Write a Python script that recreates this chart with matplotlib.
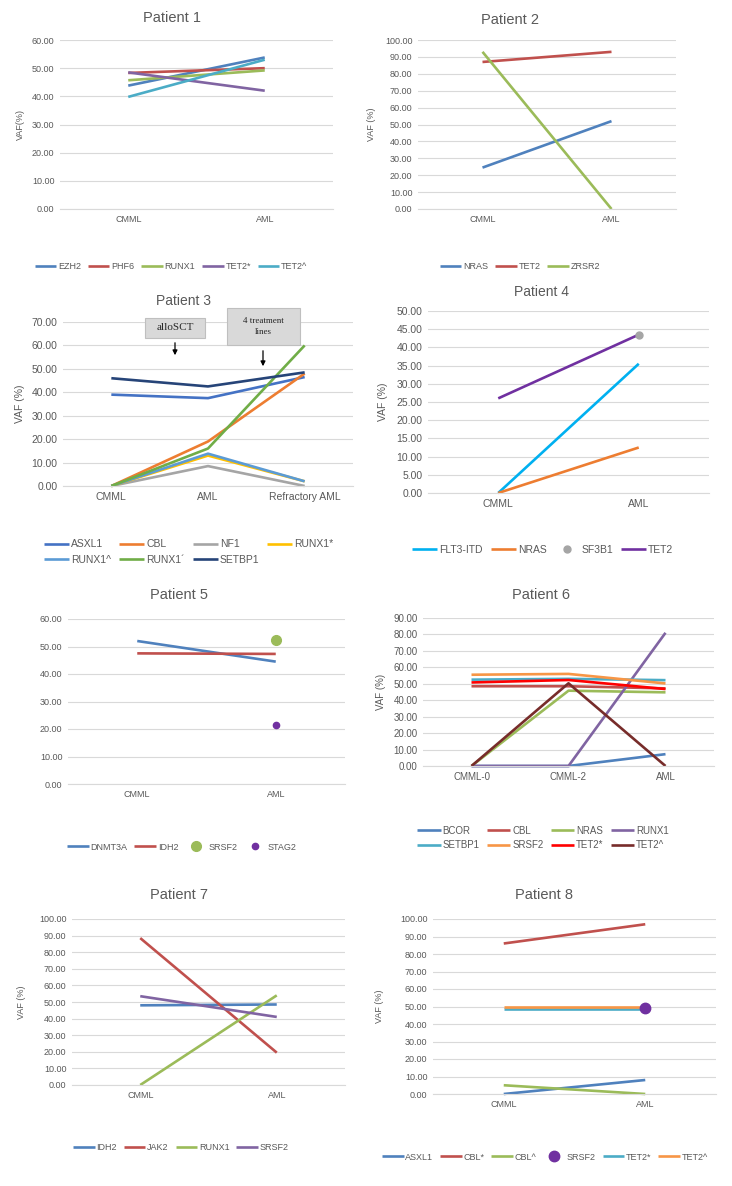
import matplotlib
matplotlib.use("Agg")
import matplotlib.pyplot as plt
from matplotlib.patches import Rectangle, FancyArrowPatch
import numpy as np

W, H = 732, 1186
TXT = "#595959"
GRID = "#D9D9D9"

plt.rcParams['font.family'] = ['Liberation Sans', 'DejaVu Sans']

# ---- data ----
p1_stages = ["CMML", "AML"]
p1_genes = ["EZH2", "PHF6", "RUNX1", "TET2*", "TET2^"]
p1_vals = [[43.8, 53.8], [48.3, 50.0], [45.7, 49.2], [48.5, 42.0], [39.8, 53.0]]
p1_cols = ["#4F81BD", "#C0504D", "#9BBB59", "#8064A2", "#4BACC6"]

p2_stages = ["CMML", "AML"]
p2_genes = ["NRAS", "TET2", "ZRSR2"]
p2_vals = [[24.5, 52.0], [87.0, 93.0], [93.0, 0.0]]
p2_cols = ["#4F81BD", "#C0504D", "#9BBB59"]

p3_stages = ["CMML", "AML", "Refractory AML"]
p3_genes = ["ASXL1", "CBL", "NF1", "RUNX1*", "RUNX1^", "RUNX1´", "SETBP1"]
p3_vals = [[39.0, 37.5, 46.5], [0.0, 19.0, 48.0], [0.0, 8.5, 0.0],
           [0.0, 13.0, 2.0], [0.0, 13.8, 2.0], [0.0, 16.0, 60.0],
           [46.0, 42.5, 48.5]]
p3_cols = ["#4472C4", "#ED7D31", "#A5A5A5", "#FFC000", "#5B9BD5", "#70AD47", "#264478"]

p4_stages = ["CMML", "AML"]
p4_genes = ["FLT3-ITD", "NRAS", "SF3B1", "TET2"]
p4_vals = [[0.0, 35.5], [0.0, 12.5], [None, 43.5], [26.0, 43.5]]
p4_cols = ["#00B0F0", "#ED7D31", "#A5A5A5", "#7030A0"]
p4_dots = {"SF3B1": 5}

p5_stages = ["CMML", "AML"]
p5_genes = ["DNMT3A", "IDH2", "SRSF2", "STAG2"]
p5_vals = [[52.0, 44.5], [47.5, 47.3], [None, 52.5], [None, 21.3]]
p5_cols = ["#4F81BD", "#C0504D", "#9BBB59", "#7030A0"]
p5_dots = {"SRSF2": 7, "STAG2": 4.5}

p6_stages = ["CMML-0", "CMML-2", "AML"]
p6_genes = ["BCOR", "CBL", "NRAS", "RUNX1", "SETBP1", "SRSF2", "TET2*", "TET2^"]
p6_vals = [[0.0, 0.0, 7.2], [48.5, 48.5, 47.2], [0.0, 45.8, 44.8], [0.0, 0.0, 81.0],
           [52.5, 53.0, 52.2], [55.5, 56.0, 50.2], [50.8, 52.3, 46.8], [0.0, 50.3, 0.0]]
p6_cols = ["#4F81BD", "#C0504D", "#9BBB59", "#8064A2", "#4BACC6", "#F79646", "#FF0000", "#772C2A"]

p7_stages = ["CMML", "AML"]
p7_genes = ["IDH2", "JAK2", "RUNX1", "SRSF2"]
p7_vals = [[48.0, 48.5], [88.5, 19.5], [0.0, 54.0], [53.5, 41.0]]
p7_cols = ["#4F81BD", "#C0504D", "#9BBB59", "#8064A2"]

p8_stages = ["CMML", "AML"]
p8_genes = ["ASXL1", "CBL*", "CBL^", "SRSF2", "TET2*", "TET2^"]
p8_vals = [[0.0, 8.0], [86.0, 97.0], [5.0, 0.0], [None, 49.3], [48.5, 48.5], [49.5, 49.5]]
p8_cols = ["#4F81BD", "#C0504D", "#9BBB59", "#7030A0", "#4BACC6", "#F79646"]
p8_dots = {"SRSF2": 7.5}


def fx(x):
    return x / W


def fy(y):
    return 1 - y / H


def row_order(items, ncol):
    # matplotlib fills legend columns first; reorder so entries read across rows
    n = len(items)
    nrow = -(-n // ncol)
    out = []
    for j in range(ncol):
        for i in range(nrow):
            k = i * ncol + j
            if k < n:
                out.append(items[k])
    return out


fig = plt.figure(figsize=(W / 100, H / 100), dpi=100)


def panel(box, title, title_xy, stages, genes, vals, cols, ymax, ystep,
          ylabel, ylab_x, leg_xy, ncol, dots=None, fs=6.5, tfs=10.5, lw=1.9):
    x0, y0, x1, y1 = box
    ax = fig.add_axes([fx(x0), fy(y1), (x1 - x0) / W, (y1 - y0) / H])
    dots = dots or {}
    xs = np.arange(len(stages))
    handles = []
    for g, v, c in zip(genes, vals, cols):
        yy = np.array([np.nan if a is None else a for a in v], dtype=float)
        if g in dots:
            h, = ax.plot(xs, yy, ls="none", marker="o", ms=dots[g], color=c,
                         label=g, clip_on=False, zorder=4)
        else:
            h, = ax.plot(xs, yy, color=c, lw=lw, label=g, clip_on=False,
                         solid_capstyle="butt")
        handles.append(h)
    ax.set_xlim(-0.5, len(stages) - 0.5)
    ax.set_ylim(0, ymax)
    ticks = np.arange(0, ymax + 0.01, ystep)
    ax.set_yticks(ticks)
    ax.set_yticklabels(["%.2f" % t for t in ticks])
    ax.set_xticks(xs)
    ax.set_xticklabels(stages)
    ax.tick_params(length=0, labelsize=fs, colors=TXT, pad=4)
    ax.grid(axis="y", color=GRID, lw=0.8)
    ax.set_axisbelow(True)
    for s in ["top", "right", "left"]:
        ax.spines[s].set_visible(False)
    ax.spines["bottom"].set_color(GRID)
    ax.spines["bottom"].set_linewidth(0.8)
    fig.text(fx(title_xy[0]), fy(title_xy[1]), title, ha="center", va="center",
             fontsize=tfs, color=TXT)
    if ylabel:
        fig.text(fx(ylab_x), fy((y0 + y1) / 2), ylabel, rotation=90,
                 ha="center", va="center", fontsize=fs, color=TXT)
    fig.legend(handles=row_order(handles, ncol), loc="center", ncol=ncol,
               frameon=False, bbox_to_anchor=(fx(leg_xy[0]), fy(leg_xy[1])),
               fontsize=fs, handlelength=2.4, handletextpad=0.2,
               columnspacing=0.75, labelcolor=TXT, borderaxespad=0,
               labelspacing=0.5)
    return ax


panel((60, 40, 333, 209), "Patient 1", (172, 18), p1_stages, p1_genes, p1_vals,
      p1_cols, 60, 10, "VAF(%)", 20, (171, 267), 5)
panel((418, 40, 676, 209), "Patient 2", (510, 20), p2_stages, p2_genes, p2_vals,
      p2_cols, 100, 10, "VAF (%)", 372, (520, 267), 3)
panel((63, 322, 353, 486), "Patient 3", (183, 301), p3_stages, p3_genes, p3_vals,
      p3_cols, 70, 10, "VAF (%)", 20, (189, 552), 4, fs=7.5, tfs=10)
panel((428, 311, 709, 493), "Patient 4", (542, 292), p4_stages, p4_genes, p4_vals,
      p4_cols, 50, 5, "VAF (%)", 383, (543, 550), 4, dots=p4_dots, fs=7.5, tfs=10)
panel((68, 619, 345, 784), "Patient 5", (179, 595), p5_stages, p5_genes, p5_vals,
      p5_cols, 60, 10, None, 0, (182, 847), 4, dots=p5_dots)
panel((423, 618, 714, 766), "Patient 6", (541, 595), p6_stages, p6_genes, p6_vals,
      p6_cols, 90, 10, "VAF (%)", 381, (543, 838), 4, fs=7)
panel((72, 919, 345, 1085), "Patient 7", (179, 895), p7_stages, p7_genes, p7_vals,
      p7_cols, 100, 10, "VAF (%)", 22, (181, 1148), 4)
panel((433, 919, 716, 1094), "Patient 8", (544, 895), p8_stages, p8_genes, p8_vals,
      p8_cols, 100, 10, "VAF (%)", 380, (545, 1157), 6, dots=p8_dots)

# annotation boxes on patient 3
for (bx0, by0, bx1, by1), txt, tsize in [((145, 318, 205, 338), "alloSCT", 8),
                                         ((227, 308, 300, 345), "4 treatment\nlines", 6.5)]:
    fig.add_artist(Rectangle((fx(bx0), fy(by1)), (bx1 - bx0) / W, (by1 - by0) / H,
                             transform=fig.transFigure, facecolor="#D9D9D9",
                             edgecolor="#BFBFBF", lw=0.8))
    fig.text(fx((bx0 + bx1) / 2), fy((by0 + by1) / 2), txt, ha="center", va="center",
             fontsize=tsize, family="Liberation Serif", color="#262626",
             linespacing=1.4)

for ax_x, a0, a1 in [(175, 340, 358), (263, 348, 369)]:
    fig.add_artist(FancyArrowPatch((fx(ax_x), fy(a0)), (fx(ax_x), fy(a1)),
                                   transform=fig.transFigure, arrowstyle="-|>",
                                   mutation_scale=7, color="black", lw=0.9))

fig.savefig("out.png", dpi=100)
